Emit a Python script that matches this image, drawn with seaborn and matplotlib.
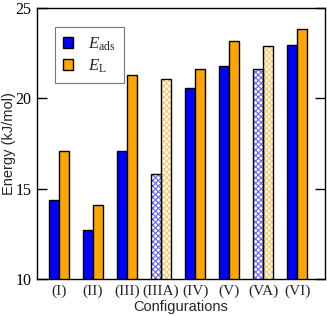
import pandas as pd
import seaborn as sns
import matplotlib.pyplot as plt
from matplotlib.patches import Rectangle

"""Data"""
Configurations = ["(I)", "(II)", "(III)", "(IIIA)", "(IV)", "(V)", "(VA)", "(VI)"]
E_Ads = [14.4, 12.7, 17.1, 15.8, 20.6, 21.8, 21.65, 22.95]
E_L = [17.1, 14.1, 21.3, 21.05, 21.65, 23.15, 22.9, 23.85]
Hatched_Configurations = ["(IIIA)", "(VA)"]
Series_Names = [r"$E_{\mathrm{ads}}$", r"$E_{\mathrm{L}}$"]
Series_Colors = ["#0000FF", "#FFA500"]

sns.set_style("white")
plt.rcParams["font.family"] = ["Liberation Sans", "DejaVu Sans"]
plt.rcParams["mathtext.fontset"] = "custom"
plt.rcParams["mathtext.rm"] = "Liberation Serif"
plt.rcParams["mathtext.it"] = "Liberation Serif:italic"
plt.rcParams["hatch.linewidth"] = 0.8

Data_Frame = pd.DataFrame({
    "config": Configurations * 2,
    "energy": E_Ads + E_L,
    "series": [Series_Names[0]] * len(E_Ads) + [Series_Names[1]] * len(E_L),
})

fig = plt.figure(figsize=(3.27, 3.16), dpi=100)
ax = fig.add_axes([0.113, 0.116, 0.881, 0.859])
sns.barplot(data=Data_Frame, x="config", y="energy", hue="series", order=Configurations,
            hue_order=Series_Names, palette=Series_Colors, width=0.59, gap=0,
            edgecolor="black", linewidth=1.0, saturation=1, ax=ax, legend=True)

# checkered bars for the "A" configurations
for Container, Color in zip(ax.containers, Series_Colors):
    for Patch, Config in zip(Container.patches, Configurations):
        if Config in Hatched_Configurations:
            Patch.set_facecolor("white")
            Patch.set_edgecolor(Color)
            Patch.set_alpha(0.6)
            Patch.set_hatch("xxxxxx")
            Patch.set_linewidth(0)
            ax.add_patch(Rectangle(Patch.get_xy(), Patch.get_width(), Patch.get_height(),
                                   fill=False, edgecolor="black", linewidth=1.0, zorder=Patch.get_zorder() + 0.1))

ax.set_xlim(-0.65, 7.82)
ax.set_ylim(10, 25)
ax.set_yticks([10, 15, 20, 25])
ax.tick_params(axis="y", direction="in", length=7, width=1, left=True, right=True,
               labelsize=11.5, pad=4, colors="black")
ax.tick_params(axis="x", length=0, labelsize=11, pad=4)
for Label in ax.get_xticklabels() + ax.get_yticklabels():
    Label.set_fontfamily("Liberation Serif")
ax.set_xlabel("Configurations", fontsize=10.5)
ax.set_ylabel("Energy (kJ/mol)", fontsize=10.5)
ax.xaxis.set_label_coords(0.5, -0.077)
ax.yaxis.set_label_coords(-0.073, 0.5)
for Spine in ax.spines.values():
    Spine.set_visible(True)
    Spine.set_color("black")
    Spine.set_linewidth(1.0)

Legend = ax.legend(loc="upper left", bbox_to_anchor=(0.0625, 0.93), borderaxespad=0, fontsize=12,
                   frameon=True, fancybox=False, edgecolor="#555555", handlelength=0.6,
                   handleheight=0.6, handletextpad=0.9, borderpad=0.5, labelspacing=0.3)
Legend.get_frame().set_linewidth(0.8)

fig.savefig("out.png", dpi=100)
